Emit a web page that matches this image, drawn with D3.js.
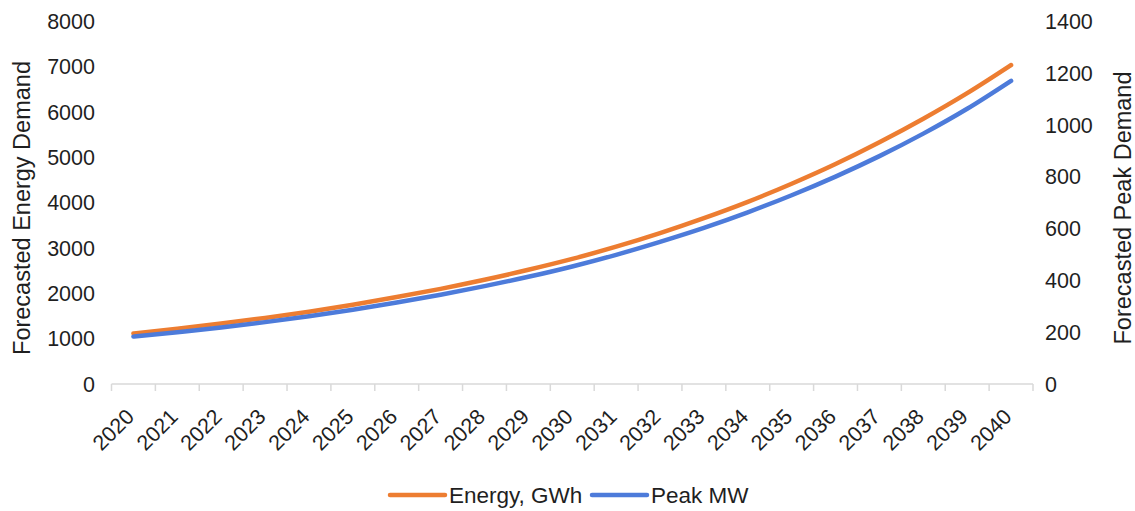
<!DOCTYPE html>
<html>
<head>
<meta charset="utf-8">
<script src="https://cdn.jsdelivr.net/npm/d3@7"></script>
<style>
  html, body { margin: 0; padding: 0; background: #ffffff; }
  svg { display: block; font-family: "Liberation Sans", Arial, sans-serif; }
</style>
</head>
<body>
<svg id="chart" width="1135" height="511"></svg>
<script>
// Forecast years
const years = [2020, 2021, 2022, 2023, 2024, 2025, 2026, 2027, 2028, 2029, 2030,
               2031, 2032, 2033, 2034, 2035, 2036, 2037, 2038, 2039, 2040];
// Annual energy demand, GWh (left axis)
const energyGWh = [1115, 1222, 1335, 1458, 1595, 1750, 1918, 2100, 2300, 2520, 2760,
                   3030, 3330, 3660, 4020, 4420, 4855, 5335, 5855, 6420, 7040];
// Peak demand, MW (right axis)
const peakMW = [183, 200, 218, 239, 262, 287, 315, 345, 378, 414, 454,
                499, 549, 603, 663, 729, 801, 880, 967, 1063, 1171];
const leftTicks = [0, 1000, 2000, 3000, 4000, 5000, 6000, 7000, 8000];
const rightTicks = [0, 200, 400, 600, 800, 1000, 1200, 1400];
const seriesNames = ["Energy, GWh", "Peak MW"];
const seriesColors = ["#ED7D31", "#4D7BDA"];

const svg = d3.select("#chart");
const plot = { left: 111.5, right: 1033, top: 21.5, bottom: 384 };
const fontSize = 21.5;
const textColor = "#1f1f1f";

const x = d3.scaleBand().domain(years).range([plot.left, plot.right]).padding(0);
const yL = d3.scaleLinear().domain([0, 8000]).range([plot.bottom, plot.top]);
const yR = d3.scaleLinear().domain([0, 1400]).range([plot.bottom, plot.top]);

// Category axis: line with ticks between categories
const xAxisG = svg.append("g");
xAxisG.append("line")
  .attr("x1", plot.left).attr("x2", plot.right)
  .attr("y1", plot.bottom).attr("y2", plot.bottom)
  .attr("stroke", "#d9d9d9").attr("stroke-width", 1.5);
const boundaries = years.map(y => x(y)).concat([x(years[years.length - 1]) + x.bandwidth()]);
xAxisG.selectAll("line.tick").data(boundaries).join("line")
  .attr("class", "tick")
  .attr("x1", d => d).attr("x2", d => d)
  .attr("y1", plot.bottom).attr("y2", plot.bottom + 7)
  .attr("stroke", "#d9d9d9").attr("stroke-width", 1.5);
xAxisG.selectAll("text").data(years).join("text")
  .attr("transform", d => `translate(${x(d) + x.bandwidth() / 2 + 2},${plot.bottom + 34}) rotate(-45)`)
  .attr("text-anchor", "end")
  .attr("font-size", fontSize)
  .attr("fill", textColor)
  .text(d => d);

// Left value axis labels
svg.append("g").selectAll("text").data(leftTicks).join("text")
  .attr("x", 95).attr("y", d => yL(d))
  .attr("dy", "0.35em")
  .attr("text-anchor", "end")
  .attr("font-size", fontSize)
  .attr("fill", textColor)
  .text(d => d);

// Right value axis labels
svg.append("g").selectAll("text").data(rightTicks).join("text")
  .attr("x", 1045).attr("y", d => yR(d))
  .attr("dy", "0.35em")
  .attr("text-anchor", "start")
  .attr("font-size", fontSize)
  .attr("fill", textColor)
  .text(d => d);

// Axis titles
const titleY = 208;
svg.append("text")
  .attr("transform", `translate(30,${titleY}) rotate(-90)`)
  .attr("text-anchor", "middle")
  .attr("font-size", 23.5)
  .attr("fill", textColor)
  .text("Forecasted Energy Demand");
svg.append("text")
  .attr("transform", `translate(1131,${titleY}) rotate(-90)`)
  .attr("text-anchor", "middle")
  .attr("font-size", 23.5)
  .attr("fill", textColor)
  .text("Forecasted Peak Demand");

// Smoothed series lines
const cx = d => x(d) + x.bandwidth() / 2;
const energyLine = d3.line().x((d, i) => cx(years[i])).y(d => yL(d)).curve(d3.curveMonotoneX);
const peakLine = d3.line().x((d, i) => cx(years[i])).y(d => yR(d)).curve(d3.curveMonotoneX);

svg.append("path").datum(energyGWh)
  .attr("d", energyLine)
  .attr("fill", "none")
  .attr("stroke", seriesColors[0])
  .attr("stroke-width", 4.5)
  .attr("stroke-linecap", "round");
svg.append("path").datum(peakMW)
  .attr("d", peakLine)
  .attr("fill", "none")
  .attr("stroke", seriesColors[1])
  .attr("stroke-width", 4.5)
  .attr("stroke-linecap", "round");

// Legend
const legendY = 495;
const legend = svg.append("g");
const legendItems = [
  { name: seriesNames[0], color: seriesColors[0], x: 390 },
  { name: seriesNames[1], color: seriesColors[1], x: 592 }
];
legendItems.forEach(item => {
  legend.append("line")
    .attr("x1", item.x).attr("x2", item.x + 55)
    .attr("y1", legendY).attr("y2", legendY)
    .attr("stroke", item.color).attr("stroke-width", 4.5)
    .attr("stroke-linecap", "round");
  legend.append("text")
    .attr("x", item.x + 59).attr("y", legendY)
    .attr("dy", "0.35em")
    .attr("font-size", 22.5)
    .attr("fill", textColor)
    .text(item.name);
});
</script>
</body>
</html>
